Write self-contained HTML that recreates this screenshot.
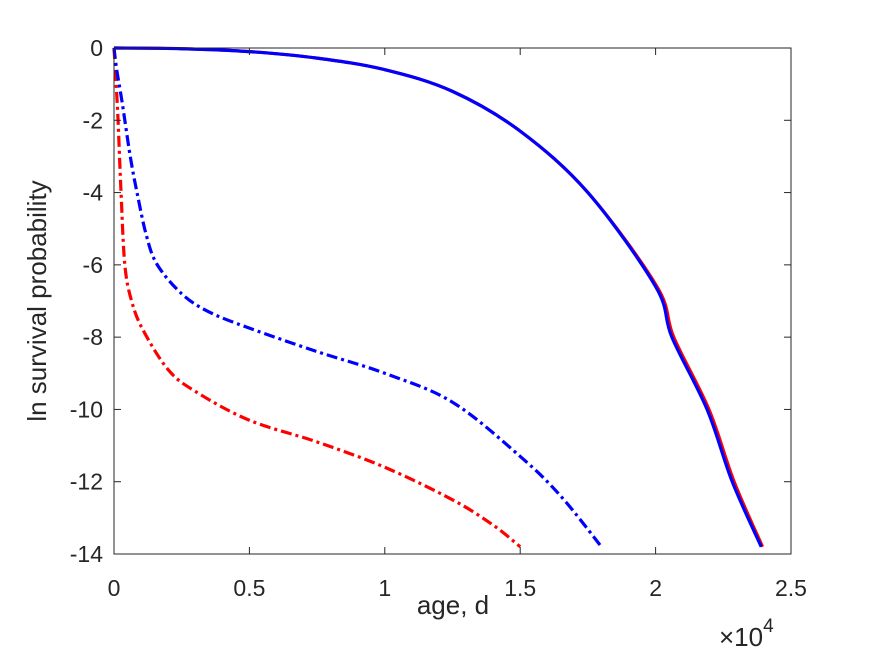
<!DOCTYPE html>
<html><head><meta charset="utf-8"><style>
body{margin:0;background:#fff}
svg{display:block;font-family:"Liberation Sans",sans-serif}
</style></head><body>
<svg id="chart" width="875" height="656" viewBox="0 0 875 656" xmlns="http://www.w3.org/2000/svg">
<rect width="875" height="656" fill="#fff"/>
<g id="series"></g>
<g id="axes"></g>
<text x="453" y="614" font-size="26" fill="#262626" text-anchor="middle">age, d</text>
<text x="719" y="646" font-size="26" fill="#262626">×10<tspan dy="-14" font-size="19">4</tspan></text>
<text transform="translate(46,301) rotate(-90)" font-size="26" fill="#262626" text-anchor="middle">ln survival probability</text>
</svg>
<script>
const xTicks=[0,0.5,1,1.5,2,2.5];
const xTickLabels=["0","0.5","1","1.5","2","2.5"];
const yTicks=[0,-2,-4,-6,-8,-10,-12,-14];
const yTickLabels=["0","-2","-4","-6","-8","-10","-12","-14"];
const solidRedX=[0,0.25,0.5,0.75,1.0,1.25,1.5,1.75,2.005,2.067,2.197,2.29,2.395];
const solidRedY=[0,-0.02,-0.1,-0.28,-0.6,-1.2,-2.3,-4.0,-6.6,-8,-10,-12,-13.8];
const solidBlueX=[0,0.25,0.5,0.75,1.0,1.25,1.5,1.75,2.0,2.06,2.19,2.283,2.39];
const solidBlueY=[0,-0.02,-0.1,-0.28,-0.6,-1.2,-2.3,-4.0,-6.6,-8,-10,-12,-13.8];
const dashBlueX=[0,0.01,0.03,0.06,0.085,0.12,0.16,0.25,0.35,0.5,0.75,1.0,1.25,1.5,1.65,1.8];
const dashBlueY=[0,-0.6,-1.5,-3.0,-4.0,-5.2,-6.0,-6.8,-7.3,-7.75,-8.4,-9.0,-9.8,-11.3,-12.4,-13.8];
const dashRedX=[0,0.008,0.015,0.026,0.04,0.065,0.107,0.2,0.3,0.5,0.75,1.0,1.25,1.4,1.5];
const dashRedY=[0,-1,-2,-4,-6,-7,-7.8,-8.9,-9.5,-10.3,-10.9,-11.6,-12.5,-13.2,-13.8];
const X0=114,X1=791,Y0=48,Y1=554;
const sx=v=>X0+v/2.5*(X1-X0);
const sy=v=>Y0+(0-v)/14*(Y1-Y0);
const NS="http://www.w3.org/2000/svg";
const axes=document.getElementById('axes');
function mk(t,a,p){const e=document.createElementNS(NS,t);for(const k in a)e.setAttribute(k,a[k]);p.appendChild(e);return e;}
let e=mk('rect',{x:X0,y:Y0,width:X1-X0,height:Y1-Y0,fill:'none',stroke:'#262626','stroke-width':1},axes);


xTicks.forEach((v,i)=>{
 const t=mk('line',{x1:sx(v),y1:Y1,x2:sx(v),y2:Y1-7,stroke:'#262626'},axes);
 
 
 const t2=mk('line',{x1:sx(v),y1:Y0,x2:sx(v),y2:Y0+7,stroke:'#262626'},axes);
 
 
 const l=mk('text',{x:sx(v),y:Y1+42,'font-size':23,fill:'#262626','text-anchor':'middle'},axes);
 l.textContent=xTickLabels[i];
 
 
});
yTicks.forEach((v,i)=>{
 const t=mk('line',{x1:X0,y1:sy(v),x2:X0+7,y2:sy(v),stroke:'#262626'},axes);
 
 
 const t2=mk('line',{x1:X1,y1:sy(v),x2:X1-7,y2:sy(v),stroke:'#262626'},axes);
 
 
 const l=mk('text',{x:X0-11,y:sy(v)+8,'font-size':23,fill:'#262626','text-anchor':'end'},axes);
 l.textContent=yTickLabels[i];
 
 
});
const ser=document.getElementById('series');
function path(xs,ys){
 const p=xs.map((x,i)=>[sx(x),sy(ys[i])]);
 let d='M'+p[0][0]+','+p[0][1];
 for(let i=0;i<p.length-1;i++){
  const p0=p[i-1]||p[i],p1=p[i],p2=p[i+1],p3=p[i+2]||p2;
  const c1=[p1[0]+(p2[0]-p0[0])/6,p1[1]+(p2[1]-p0[1])/6];
  const c2=[p2[0]-(p3[0]-p1[0])/6,p2[1]-(p3[1]-p1[1])/6];
  d+=` C${c1[0]},${c1[1]} ${c2[0]},${c2[1]} ${p2[0]},${p2[1]}`;
 }
 return d;
}
function line(xs,ys,col,dash,name){
 const a={d:path(xs,ys),fill:'none',stroke:col,'stroke-width':3.2};
 if(dash)a['stroke-dasharray']='11,4,3,4';
 const p=mk('path',a,ser);
 
 
}
line(dashRedX,dashRedY,'#ff0000',true,'red-dashdot-series');
line(dashBlueX,dashBlueY,'#0000ff',true,'blue-dashdot-series');
line(solidRedX,solidRedY,'#ff0000',false,'red-solid-series');
line(solidBlueX,solidBlueY,'#0000ff',false,'blue-solid-series');
</script>
</body></html>
